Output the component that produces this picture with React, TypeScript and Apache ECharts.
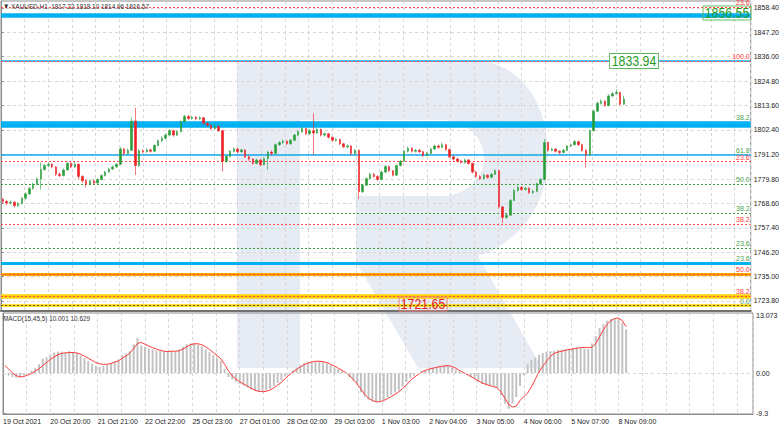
import React, { useEffect, useRef } from 'react';
import * as echarts from 'echarts';

const FONT = "'Liberation Sans', Arial, sans-serif";

// 2-hour candles: [open, close, low, high]
const candles: number[][] = [
  [1770.5, 1769.5, 1768.8, 1771.2], [1769.5, 1768.8, 1767.8, 1770.2], [1768.8, 1769.2, 1768.0, 1770.0], [1769.2, 1767.6, 1766.8, 1769.6],
  [1767.6, 1768.6, 1767.0, 1769.2], [1768.6, 1771.0, 1768.2, 1771.6], [1771.0, 1773.0, 1770.4, 1773.8], [1773.0, 1775.5, 1772.6, 1776.2],
  [1775.5, 1777.5, 1775.0, 1778.2], [1777.5, 1779.8, 1777.0, 1780.6], [1779.8, 1784.2, 1775.0, 1787.4], [1784.2, 1786.0, 1783.6, 1786.8],
  [1786.0, 1786.6, 1785.2, 1787.6], [1786.6, 1785.4, 1784.8, 1787.2], [1785.4, 1782.0, 1781.2, 1785.8], [1782.0, 1781.4, 1780.6, 1782.8],
  [1781.4, 1784.0, 1781.0, 1784.6], [1784.0, 1787.0, 1783.6, 1787.8], [1787.0, 1785.4, 1784.8, 1787.6], [1785.4, 1786.6, 1785.0, 1788.0],
  [1786.6, 1781.0, 1779.6, 1787.0], [1781.0, 1779.0, 1778.2, 1781.6], [1779.0, 1777.4, 1776.0, 1779.6], [1777.4, 1779.0, 1777.0, 1779.6],
  [1779.0, 1778.0, 1777.2, 1779.6], [1778.0, 1779.6, 1777.6, 1780.2], [1779.6, 1781.4, 1779.2, 1782.0], [1781.4, 1783.0, 1781.0, 1783.6],
  [1783.0, 1784.4, 1782.6, 1785.0], [1784.4, 1785.4, 1784.0, 1786.0], [1785.4, 1786.6, 1785.0, 1787.2], [1786.6, 1793.6, 1786.2, 1794.6],
  [1793.6, 1791.6, 1790.8, 1794.0], [1791.6, 1793.0, 1791.0, 1793.8], [1793.0, 1806.4, 1792.6, 1808.0], [1806.4, 1786.0, 1781.6, 1812.6],
  [1786.0, 1792.8, 1785.4, 1793.6], [1792.8, 1792.4, 1791.6, 1793.6], [1792.4, 1793.2, 1791.8, 1794.0], [1793.2, 1792.6, 1792.0, 1793.8],
  [1792.6, 1795.2, 1792.2, 1795.8], [1795.2, 1797.4, 1794.8, 1798.0], [1797.4, 1798.6, 1796.8, 1799.4], [1798.6, 1800.0, 1798.0, 1800.8],
  [1800.0, 1802.0, 1799.4, 1802.8], [1802.0, 1800.0, 1799.2, 1802.4], [1800.0, 1801.6, 1799.6, 1802.2], [1801.6, 1806.2, 1801.2, 1806.8],
  [1806.2, 1808.6, 1805.8, 1809.4], [1808.6, 1807.6, 1807.0, 1809.2], [1807.6, 1808.2, 1807.0, 1808.8], [1808.2, 1807.4, 1806.8, 1808.8],
  [1807.4, 1808.0, 1806.8, 1808.6], [1808.0, 1805.4, 1804.8, 1808.4], [1805.4, 1804.6, 1803.8, 1806.0], [1804.6, 1803.0, 1802.4, 1805.0],
  [1803.0, 1804.0, 1802.6, 1804.6], [1804.0, 1802.0, 1801.4, 1804.4], [1802.0, 1788.0, 1783.4, 1802.4], [1788.0, 1790.2, 1787.2, 1790.8],
  [1790.2, 1792.6, 1789.8, 1793.2], [1792.6, 1793.6, 1792.0, 1794.4], [1793.6, 1792.4, 1791.8, 1794.0], [1792.4, 1793.2, 1791.8, 1793.8],
  [1793.2, 1790.0, 1789.4, 1793.6], [1790.0, 1789.0, 1788.2, 1790.6], [1789.0, 1787.0, 1786.2, 1789.4], [1787.0, 1788.6, 1786.6, 1789.2],
  [1788.6, 1786.4, 1785.6, 1789.0], [1786.4, 1789.2, 1786.0, 1789.8], [1789.2, 1792.2, 1784.0, 1792.8], [1792.2, 1791.6, 1790.8, 1793.0],
  [1791.6, 1795.6, 1791.2, 1796.2], [1795.6, 1796.6, 1795.0, 1797.2], [1796.6, 1797.2, 1796.0, 1798.0], [1797.2, 1796.0, 1795.4, 1797.6],
  [1796.0, 1797.6, 1795.6, 1798.2], [1797.6, 1800.0, 1797.2, 1800.6], [1800.0, 1801.6, 1799.6, 1802.2], [1801.6, 1803.0, 1801.0, 1803.8],
  [1803.0, 1800.6, 1800.0, 1803.4], [1800.6, 1802.0, 1800.2, 1802.8], [1802.0, 1801.0, 1791.0, 1810.0], [1801.0, 1802.6, 1800.6, 1803.2],
  [1802.6, 1800.0, 1799.4, 1803.0], [1800.0, 1800.6, 1799.4, 1801.2], [1800.6, 1799.0, 1798.4, 1801.0], [1799.0, 1797.6, 1797.0, 1799.4],
  [1797.6, 1798.0, 1797.0, 1798.6], [1798.0, 1796.0, 1795.4, 1798.4], [1796.0, 1794.6, 1794.0, 1796.4], [1794.6, 1795.0, 1794.0, 1795.8],
  [1795.0, 1791.6, 1790.6, 1795.4], [1791.6, 1793.0, 1791.0, 1793.6], [1793.0, 1774.0, 1770.6, 1793.4], [1774.0, 1777.0, 1773.4, 1777.6],
  [1777.0, 1780.0, 1776.6, 1780.6], [1780.0, 1782.0, 1779.6, 1782.8], [1782.0, 1781.0, 1780.4, 1782.6], [1781.0, 1779.6, 1779.0, 1781.6],
  [1779.6, 1783.0, 1779.2, 1783.6], [1783.0, 1785.6, 1782.6, 1786.2], [1785.6, 1783.6, 1783.0, 1786.0], [1783.6, 1781.6, 1781.0, 1784.0],
  [1781.6, 1786.0, 1781.2, 1786.6], [1786.0, 1788.0, 1785.6, 1788.6], [1788.0, 1792.6, 1787.6, 1793.2], [1792.6, 1794.0, 1792.0, 1794.8],
  [1794.0, 1792.6, 1792.0, 1794.4], [1792.6, 1793.0, 1792.0, 1793.6], [1793.0, 1792.4, 1791.8, 1793.6], [1792.4, 1790.6, 1790.0, 1792.8],
  [1790.6, 1791.6, 1790.2, 1792.2], [1791.6, 1793.6, 1791.2, 1794.2], [1793.6, 1795.0, 1793.2, 1795.6], [1795.0, 1794.4, 1793.8, 1795.6],
  [1794.4, 1795.6, 1794.0, 1796.6], [1795.6, 1793.4, 1792.8, 1796.0], [1793.4, 1790.0, 1789.4, 1793.8], [1790.0, 1789.0, 1788.2, 1790.6],
  [1789.0, 1788.0, 1787.4, 1789.6], [1788.0, 1787.4, 1786.8, 1788.6], [1787.4, 1788.6, 1787.0, 1789.2], [1788.6, 1787.0, 1786.4, 1789.0],
  [1787.0, 1783.0, 1782.4, 1787.4], [1783.0, 1781.0, 1780.4, 1783.6], [1781.0, 1780.0, 1779.4, 1781.6], [1780.0, 1781.6, 1779.6, 1782.2],
  [1781.6, 1780.6, 1780.0, 1782.0], [1780.6, 1782.0, 1780.2, 1782.6], [1782.0, 1783.6, 1781.6, 1784.4], [1783.6, 1767.0, 1766.2, 1784.0],
  [1767.0, 1762.2, 1759.6, 1767.6], [1762.2, 1763.2, 1761.6, 1764.0], [1763.2, 1770.0, 1762.8, 1770.6], [1770.0, 1774.6, 1769.6, 1775.4],
  [1774.6, 1776.0, 1774.0, 1776.8], [1776.0, 1775.0, 1774.4, 1776.6], [1775.0, 1775.6, 1774.6, 1776.2], [1775.6, 1773.6, 1773.0, 1776.0],
  [1773.6, 1774.2, 1773.0, 1774.8], [1774.2, 1777.6, 1773.8, 1778.2], [1777.6, 1779.6, 1777.2, 1780.2], [1779.6, 1796.6, 1779.2, 1798.2],
  [1796.6, 1793.0, 1792.4, 1797.0], [1793.0, 1793.6, 1792.6, 1794.2], [1793.6, 1792.6, 1792.0, 1794.0], [1792.6, 1792.0, 1791.2, 1793.0],
  [1792.0, 1793.0, 1791.6, 1793.6], [1793.0, 1795.0, 1792.6, 1795.6], [1795.0, 1795.6, 1794.6, 1796.2], [1795.6, 1797.0, 1795.2, 1797.8],
  [1797.0, 1795.6, 1795.0, 1797.4], [1795.6, 1793.0, 1792.4, 1796.0], [1793.0, 1791.0, 1785.0, 1793.4], [1791.0, 1802.0, 1790.6, 1802.6],
  [1802.0, 1811.0, 1801.6, 1811.6], [1811.0, 1814.6, 1810.6, 1815.4], [1814.6, 1815.6, 1814.0, 1816.4], [1815.6, 1813.6, 1813.0, 1816.0],
  [1813.6, 1818.0, 1813.2, 1818.8], [1818.0, 1819.0, 1817.4, 1819.8], [1819.0, 1819.6, 1818.6, 1821.0], [1819.6, 1814.2, 1813.6, 1820.0],
  [1814.2, 1816.57, 1813.8, 1818.1],
];

const macdHist: number[] = [
  -0.3, -0.6, -0.9, -1.1, -1.0, -0.6, -0.1, 0.5, 1.2, 2.0,
  3.3, 3.6, 4.2, 4.7, 4.9, 4.9, 4.7, 5.0, 4.8, 4.6,
  4.0, 3.4, 2.7, 2.1, 1.6, 1.4, 1.6, 1.9, 2.3, 2.7,
  3.1, 4.1, 4.4, 5.0, 6.6, 8.0, 6.3, 6.0, 5.6, 5.4,
  5.2, 5.0, 4.9, 4.9, 5.1, 5.0, 5.4, 6.0, 6.6, 6.8,
  6.8, 6.5, 6.1, 5.4, 4.8, 4.1, 3.4, 2.8, 0.9, -0.9,
  -1.5, -2.0, -2.5, -2.9, -3.3, -3.8, -4.1, -4.3, -4.3, -4.0,
  -3.6, -3.0, -2.3, -1.6, -0.8, -0.1, 0.6, 1.3, 1.8, 2.3,
  2.4, 2.6, 2.7, 2.7, 2.5, 2.2, 1.8, 1.3, 0.9, 0.4,
  -0.2, -1.0, -1.8, -2.6, -4.4, -5.4, -6.1, -6.5, -6.6, -6.5,
  -6.1, -5.6, -5.0, -4.5, -4.0, -3.1, -2.1, -1.2, -0.6, 0.0,
  0.4, 0.7, 0.9, 1.2, 1.4, 1.6, 1.8, 1.7, 1.2, 0.8,
  0.4, 0.0, -0.5, -0.9, -1.4, -2.0, -2.5, -2.8, -3.0, -3.1,
  -3.4, -5.2, -7.0, -8.2, -7.0, -5.5, -3.0, -0.5, 2.0, 3.0,
  3.5, 4.2, 4.6, 4.9, 5.0, 5.1, 5.3, 5.4, 5.5, 5.6,
  5.8, 5.9, 5.9, 5.6, 5.5, 6.8, 8.5, 10.3, 11.3, 12.0,
  12.4, 12.6, 12.5, 11.5, 10.0,
];

const macdSignal: number[] = [
  1.7, 0.9, 0.0, -0.6, -0.9, -0.8, -0.5, -0.1, 0.4, 1.0,
  1.7, 2.4, 3.1, 3.7, 4.2, 4.5, 4.6, 4.7, 4.7, 4.6,
  4.3, 3.9, 3.4, 2.9, 2.4, 2.1, 2.0, 2.0, 2.2, 2.5,
  2.8, 3.4, 3.9, 4.6, 5.6, 6.8, 7.0, 6.6, 6.2, 5.8,
  5.5, 5.2, 5.0, 4.9, 5.0, 5.0, 5.1, 5.5, 6.0, 6.5,
  6.7, 6.7, 6.5, 6.0, 5.4, 4.7, 4.0, 3.3, 2.0, 0.5,
  -0.6, -1.4, -2.0, -2.5, -3.0, -3.5, -3.9, -4.2, -4.3, -4.2,
  -3.9, -3.4, -2.8, -2.1, -1.3, -0.5, 0.2, 0.8, 1.4, 1.9,
  2.3, 2.5, 2.7, 2.7, 2.6, 2.4, 2.0, 1.6, 1.1, 0.6,
  0.1, -0.6, -1.5, -2.5, -3.7, -4.9, -5.8, -6.3, -6.6, -6.6,
  -6.3, -5.9, -5.4, -4.9, -4.3, -3.6, -2.7, -1.8, -1.0, -0.4,
  0.2, 0.6, 0.9, 1.1, 1.3, 1.5, 1.6, 1.7, 1.5, 1.1,
  0.6, 0.1, -0.3, -0.8, -1.3, -1.8, -2.3, -2.6, -2.9, -3.1,
  -3.4, -4.4, -5.8, -7.2, -7.8, -7.6, -6.3, -5.4, -4.6, -3.2,
  -1.5, 0.3, 1.5, 2.7, 3.8, 4.5, 4.8, 5.0, 5.2, 5.4,
  5.5, 5.7, 5.8, 5.9, 5.8, 5.9, 6.8, 8.3, 9.9, 11.2,
  12.0, 12.5, 12.6, 12.0, 10.6,
];

const xTickLabels = [
  '19 Oct 2021', '20 Oct 20:00', '21 Oct 21:00', '22 Oct 22:00', '25 Oct 23:00', '27 Oct 01:00', '28 Oct 02:00',
  '29 Oct 03:00', '1 Nov 03:00', '2 Nov 04:00', '3 Nov 05:00', '4 Nov 06:00', '5 Nov 07:00', '8 Nov 09:00',
];
const hoursPerLabel = 25;
const hoursPerCandle = 2;
const slotCount = 198;

const priceTicks = [1858.4, 1847.2, 1836.0, 1824.8, 1813.6, 1802.4, 1791.2, 1779.8, 1768.6, 1757.4, 1746.2, 1735.0, 1723.8];
const macdTicks = [13.073, 0, -9.3];
const macdTickLabels = ['13.073', '0.00', '-9.3'];

const fibValues = [1858.7, 1855.2, 1833.94, 1833.94, 1806.1, 1804.4, 1790.9, 1787.8, 1777.5, 1764.1, 1759.0, 1748.0, 1741.3, 1736.2, 1736.2, 1726.0, 1726.0, 1721.65, 1721.65];
const fibKinds = ['redDot', 'cyanBand', 'cyan', 'redDot', 'cyanMid', 'cyanBand', 'cyan', 'redDot', 'greenDot', 'greenDot', 'redDot', 'greenDot', 'cyanThick', 'orange', 'redDot', 'yellow', 'redDot', 'yellowThin', 'oliveDot'];
const fibTexts = ['23.6', '', '', '100.0', '38.2', '', '61.8', '23.6', '50.0', '38.2', '38.2', '23.6', '23.6', '', '50.0', '', '38.2', '', '0.0'];

const lastPrice = 1816.57;
const headerText = '\u25BC XAUUSD,H1  1817.22 1818.10 1814.96 1816.57';
const macdTitle = 'MACD(15,45,5) 10.001 10.629';
const priceTags = ['1856.55', '1833.94', '1721.65'];

const LOGO_D =
  'M237 60 L300 60 L300 368 L237 368 Z ' +
  'M300 60 L470 60 C518 60 548 100 548 155 C548 205 520 242 478 256 L542 368 L418 368 L356 262 L356 196 ' +
  'L440 196 C466 196 484 178 484 158 C484 137 466 120 440 120 L300 120 Z';

const kindStyle: Record<string, any> = {
  redDot: { color: '#ff4d4d', width: 1, type: [2, 2] },
  greenDot: { color: '#3c9c3c', width: 1, type: [2, 2] },
  oliveDot: { color: '#5a6400', width: 1, type: [2, 2] },
  cyan: { color: '#12a8ea', width: 1.6, type: 'solid' },
  cyanBand: { color: '#00b0f0', width: 4.5, type: 'solid' },
  cyanMid: { color: '#00b0f0', width: 2.6, type: 'solid' },
  cyanThick: { color: '#00b0f0', width: 3, type: 'solid' },
  orange: { color: '#ffa500', width: 3, type: 'solid' },
  yellow: { color: '#ffd200', width: 4.5, type: 'solid' },
  yellowThin: { color: '#ffd200', width: 2.5, type: 'solid' },
};

export default function App() {
  const ref = useRef<HTMLDivElement>(null);

  useEffect(() => {
    if (!ref.current) return;
    echarts.graphic.registerShape('logo', echarts.graphic.extendPath(LOGO_D, {}) as any);
    const chart = echarts.init(ref.current, undefined, { renderer: 'svg' });

    const slots = Array.from({ length: slotCount }, (_, i) => String(i * hoursPerCandle));
    const hourMax = slotCount * hoursPerCandle;
    const gridLine = { show: true, lineStyle: { color: '#d6d6d6', type: [3, 3] as any, width: 1 } };

    const fibData = fibValues.map((v, i) => {
      const kind = fibKinds[i];
      const isRed = kind === 'redDot';
      return {
        yAxis: v,
        lineStyle: kindStyle[kind],
        label: {
          show: fibTexts[i] !== '',
          formatter: fibTexts[i],
          position: 'insideEndTop',
          distance: [1, 1],
          fontSize: 7,
          fontFamily: FONT,
          color: isRed ? '#ff3b3b' : '#4a9e4a',
        },
      };
    });

    const option: any = {
      animation: false,
      textStyle: { fontFamily: FONT },
      grid: [
        { left: 1, right: 29, top: 1, height: 310, show: true, borderColor: '#8c8c8c', borderWidth: 1 },
        { left: 1, right: 29, top: 313, height: 101, show: true, borderColor: '#8c8c8c', borderWidth: 1 },
      ],
      xAxis: [
        { type: 'category', gridIndex: 0, position: 'bottom', data: slots, show: false },
        {
          type: 'value', gridIndex: 0, position: 'bottom', offset: 0, min: 0, max: hourMax, interval: hoursPerLabel / 2,
          axisLabel: { show: false }, axisTick: { show: false },
          axisLine: { show: true, lineStyle: { color: '#727272', width: 2 } },
          splitLine: gridLine,
        },
        { type: 'category', gridIndex: 1, position: 'bottom', data: slots, show: false },
        {
          type: 'value', gridIndex: 1, position: 'bottom', offset: 0, min: 0, max: hourMax, interval: hoursPerLabel / 2,
          axisLabel: {
            fontSize: 7, color: '#222', align: 'left', margin: 4, showMaxLabel: false,
            formatter: (v: number) => {
              const k = v / hoursPerLabel;
              return Number.isInteger(k) && k < xTickLabels.length ? xTickLabels[k] : '';
            },
          },
          axisTick: { show: false },
          axisLine: { show: true, lineStyle: { color: '#8c8c8c', width: 1 } },
          splitLine: gridLine,
        },
      ],
      yAxis: [
        {
          type: 'value', gridIndex: 0, position: 'right', min: 1719.2, max: 1861.6,
          axisLabel: { customValues: priceTicks, formatter: (v: number) => v.toFixed(2), fontSize: 7, color: '#222', margin: 3 },
          axisTick: { show: true, customValues: priceTicks, length: 3, lineStyle: { color: '#8c8c8c' } },
          axisLine: { show: true, lineStyle: { color: '#8c8c8c' } },
          splitLine: gridLine,
        },
        {
          type: 'value', gridIndex: 1, position: 'right', min: -9.4, max: 13.76,
          axisLabel: {
            customValues: macdTicks, fontSize: 7, color: '#222', margin: 3,
            formatter: (v: number) => {
              const idx = macdTicks.findIndex((t) => Math.abs(t - v) < 1e-6);
              return idx >= 0 ? macdTickLabels[idx] : '';
            },
          },
          axisTick: { show: true, customValues: macdTicks, length: 3, lineStyle: { color: '#8c8c8c' } },
          axisLine: { show: true, lineStyle: { color: '#8c8c8c' } },
          splitLine: { show: false },
        },
      ],
      series: [
        {
          type: 'line', xAxisIndex: 0, yAxisIndex: 0, data: [], silent: true,
          markLine: { silent: true, symbol: ['none', 'none'], z: 1, animation: false, data: fibData },
        },
        {
          type: 'candlestick', xAxisIndex: 0, yAxisIndex: 0, data: candles, barWidth: 2, z: 3,
          itemStyle: { color: '#2b9e3b', color0: '#ee2127', borderColor: '#2b9e3b', borderColor0: '#ee2127', borderWidth: 0.6 },
          markLine: {
            silent: true, symbol: ['none', 'none'], animation: false,
            data: [{
              yAxis: lastPrice, lineStyle: { opacity: 0 },
              label: {
                show: true, position: 'end', distance: 1, formatter: lastPrice.toFixed(2), fontSize: 7,
                color: '#fff', backgroundColor: '#000', padding: [2, 2, 1, 2],
              },
            }],
          },
        },
        {
          type: 'bar', xAxisIndex: 2, yAxisIndex: 1, data: macdHist, barWidth: 2, silent: true,
          itemStyle: { color: '#c2c2c2' },
          markLine: {
            silent: true, symbol: ['none', 'none'], animation: false,
            data: [{ yAxis: 0, lineStyle: { color: '#d6d6d6', type: [3, 3], width: 1 }, label: { show: false } }],
          },
        },
        {
          type: 'line', xAxisIndex: 2, yAxisIndex: 1, data: macdSignal, symbol: 'none', silent: true,
          lineStyle: { color: '#ff3b3b', width: 1 },
        },
      ],
      graphic: [
        { type: 'logo', x: 0, y: 0, z: -10, silent: true, style: { fill: '#e7ecf4' } },
        {
          type: 'text', x: 3, y: 2, scaleX: 0.8, z: 50, silent: true,
          style: { text: headerText, fontSize: 8, fontFamily: FONT, fill: '#333', align: 'left', verticalAlign: 'top' },
        },
        {
          type: 'text', x: 3, y: 314, scaleX: 0.8, z: 50, silent: true,
          style: { text: macdTitle, fontSize: 8, fontFamily: FONT, fill: '#333', align: 'left', verticalAlign: 'top' },
        },
        {
          type: 'text', x: 703, y: 6, scaleX: 0.88, z: 50, silent: true,
          style: { text: priceTags[0], fontSize: 14, fontFamily: FONT, fill: '#1f9a1f', align: 'left', verticalAlign: 'top', borderColor: '#5cb85c', borderWidth: 1, padding: [0, 2, 0, 2] },
        },
        {
          type: 'text', x: 610, y: 54, scaleX: 0.88, z: 50, silent: true,
          style: { text: priceTags[1], fontSize: 14, fontFamily: FONT, fill: '#1f9a1f', align: 'left', verticalAlign: 'top', backgroundColor: '#fff', borderColor: '#5cb85c', borderWidth: 1, padding: [0, 2, 0, 2] },
        },
        {
          type: 'text', x: 399, y: 297, scaleX: 0.88, z: 50, silent: true,
          style: { text: priceTags[2], fontSize: 14, fontFamily: FONT, fill: '#e82020', align: 'left', verticalAlign: 'top', borderColor: '#f08080', borderWidth: 1, padding: [0, 2, 0, 2] },
        },
      ],
    };

    chart.setOption(option);
    return () => chart.dispose();
  }, []);

  return (
    <div
      ref={ref}
      style={{ position: 'fixed', left: 0, top: 0, width: 782, height: 428, background: '#fff' }}
    />
  );
}
